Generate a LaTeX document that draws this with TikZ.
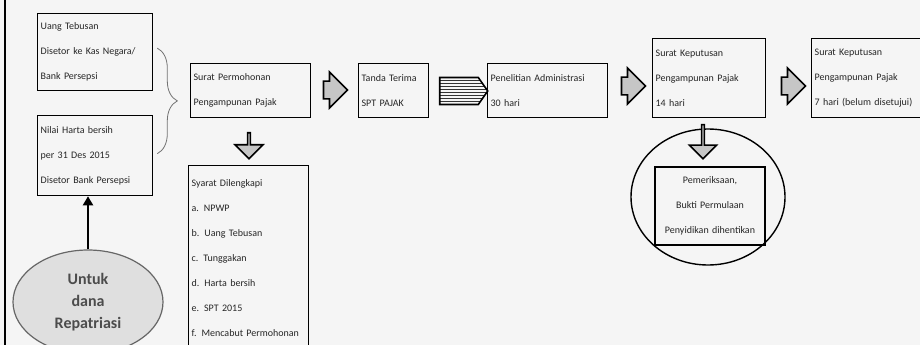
\documentclass[tikz,border=0pt]{standalone}
\usepackage{fontspec}
\setmainfont{Carlito}
\usetikzlibrary{shapes.geometric, shapes.arrows, shapes.symbols, arrows.meta,
                positioning, patterns, decorations.pathreplacing, calc}

\begin{document}
\begin{tikzpicture}[x=1pt, y=-1pt,
    box/.style={
        rectangle, draw=black, line width=1.3pt, anchor=north west,
        align=left, font=\fontsize{10}{25}\selectfont, text=black!85,
        inner sep=3pt
    },
    blockarrow/.style={single arrow, draw=black, line width=1.6pt,
        fill=gray!45, minimum height=24pt, minimum width=36pt,
        inner xsep=0pt, inner ysep=8pt, single arrow head extend=9pt},
    downarrow/.style={blockarrow, shape border rotate=270},
    arrow/.style={-{Triangle[length=9pt,width=10pt]}, line width=2pt}
]
\useasboundingbox[fill=black!4] (0,0) rectangle (920,345);
\clip (0,0) rectangle (920,345);
\draw[line width=1.5pt] (5,0) -- (5,345);

% left column
\node[box, text width=109pt, minimum width=115pt, minimum height=77pt]
    at (37,13) (setor) {Uang Tebusan\\Disetor ke Kas Negara/\\Bank Persepsi};
\node[box, text width=109pt, minimum width=115pt, minimum height=80pt]
    at (37,115) (harta) {Nilai Harta bersih\\per 31 Des 2015\\Disetor Bank Persepsi};
\node[ellipse, draw=black!60, line width=1.2pt, fill=gray!25,
      minimum width=150pt, minimum height=104pt, align=center,
      font=\fontsize{16}{22}\selectfont\bfseries, text=black!70]
    at (88,302) (repat) {Untuk\\dana\\Repatriasi};
\draw[arrow] (repat.north) -- (repat.north |- harta.south);
\draw[black!55, line width=0.8pt, decorate, decoration={brace, amplitude=20pt}]
    ($(setor.east)+(4,-4)$) -- ($(harta.east)+(4,-2)$);

% main row
\node[box, text width=114pt, minimum width=120pt, minimum height=54pt]
    at (190,63) (mohon) {Surat Permohonan\\Pengampunan Pajak};
\node[downarrow, minimum height=26pt, minimum width=28pt, inner ysep=6pt,
      single arrow head extend=7pt] at (249,145) (d1) {};
\node[box, text width=114pt, minimum width=120pt, minimum height=184pt]
    at (188,165) (syarat) {Syarat Dilengkapi\\a. NPWP\\b. Uang Tebusan\\c. Tunggakan\\
    d. Harta bersih\\e. SPT 2015\\f. Mencabut Permohonan};
\node[blockarrow] at (331,90) (a1) {};
\node[box, text width=64pt, minimum width=70pt, minimum height=54pt]
    at (358,63) (terima) {Tanda Terima\\SPT PAJAK};
\node[signal, signal to=east, signal pointer angle=110, draw=black,
      line width=1.6pt, pattern=horizontal lines, pattern color=black!80,
      minimum width=48pt, minimum height=27pt, inner sep=0pt]
    at (459,91) (sig) {};
\node[box, text width=114pt, minimum width=120pt, minimum height=54pt]
    at (487,63) (teliti) {Penelitian Administrasi\\30 hari};
\node[blockarrow] at (629,86) (a2) {};
\node[box, text width=107pt, minimum width=113pt, minimum height=79pt]
    at (652,38) (sk) {Surat Keputusan\\Pengampunan Pajak\\14 hari};
\node[blockarrow] at (789,86) (a3) {};
\node[box, text width=114pt, minimum width=120pt, minimum height=79pt]
    at (811,38) (sk2) {Surat Keputusan\\Pengampunan Pajak\\7 hari (belum disetujui)};

% circled note
\node[ellipse, draw=black, line width=1.4pt, minimum width=154pt,
      minimum height=136pt] at (708,197) (lingkar) {};
\node[box, anchor=center, align=center, text width=104pt, minimum width=110pt,
      minimum height=78pt] at (710,206) (periksa)
    {Pemeriksaan,\\Bukti Permulaan\\Penyidikan dihentikan};
\node[downarrow, minimum height=34pt, minimum width=27pt, inner ysep=5pt,
      single arrow head extend=7pt] at (703,141) (d2) {};
\end{tikzpicture}
\end{document}
